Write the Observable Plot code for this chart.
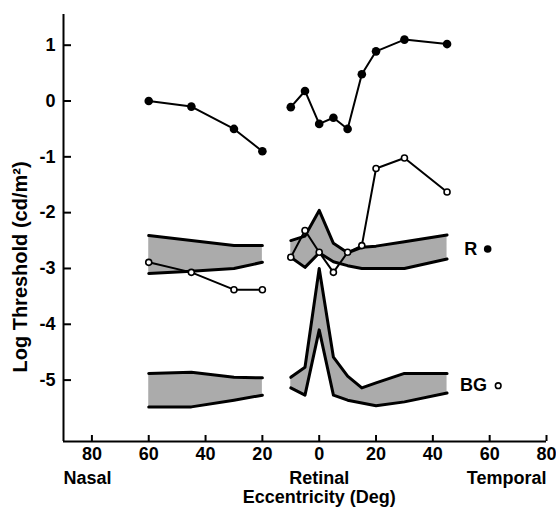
<!DOCTYPE html>
<html>
<head>
<meta charset="utf-8">
<script src="https://cdn.jsdelivr.net/npm/d3@7"></script>
<script src="https://cdn.jsdelivr.net/npm/@observablehq/plot@0.6"></script>
<style>
  html, body { margin: 0; padding: 0; background: white; }
  #chart svg { display: block; }
</style>
</head>
<body>
<svg width="0" height="0" style="position:absolute">
  <defs>
    <pattern id="stipple" x="-0.5" y="-0.5" width="2" height="2" patternUnits="userSpaceOnUse">
      <rect width="2" height="2" fill="#d6d6d6" shape-rendering="crispEdges"></rect>
      <rect width="1" height="1" fill="#2a2a2a" shape-rendering="crispEdges"></rect>
    </pattern>
  </defs>
</svg>
<div id="chart"></div>
<script>
// Eccentricity (deg): nasal negative, temporal positive
const nasalEcc = [-60, -45, -30, -20];
const centralEcc = [-10, -5, 0, 5, 10, 15, 20, 30, 45];

// R (filled) thresholds
const rNasal = [0, -0.1, -0.5, -0.9];
const rCentral = [-0.11, 0.18, -0.41, -0.3, -0.5, 0.48, 0.89, 1.1, 1.02];

// BG (open) thresholds
const bgNasal = [-2.89, -3.07, -3.38, -3.38];
const bgCentral = [-2.8, -2.32, -2.71, -3.07, -2.71, -2.59, -1.21, -1.02, -1.63];

// Normal ranges (shaded bands)
const rBandNasalHi = [-2.41, -2.5, -2.59, -2.59];
const rBandNasalLo = [-3.09, -3.05, -3.0, -2.89];
const rBandCentralHi = [-2.5, -2.42, -1.96, -2.55, -2.72, -2.62, -2.6, -2.52, -2.4];
const rBandCentralLo = [-2.8, -2.98, -2.72, -2.88, -2.95, -3.0, -3.0, -3.0, -2.83];
const bgBandNasalHi = [-4.88, -4.86, -4.95, -4.96];
const bgBandNasalLo = [-5.48, -5.48, -5.36, -5.27];
const bgBandCentralHi = [-4.95, -4.77, -3.0, -4.59, -4.93, -5.14, -5.05, -4.88, -4.88];
const bgBandCentralLo = [-5.14, -5.27, -4.1, -5.27, -5.36, -5.41, -5.46, -5.39, -5.23];

// Axes
const xDomain = [-90, 80];
const yDomain = [-6.1, 1.55];
const xTicks = [-80, -60, -40, -20, 0, 20, 40, 60, 80];
const yTicks = [-5, -4, -3, -2, -1, 0, 1];
const regionLabels = ["Nasal", "Retinal", "Temporal"];
const xTitle = "Eccentricity (Deg)";
const yTitle = "Log Threshold (cd/m²)";

// Curve key labels
const keyLabels = ["R", "BG"];
const keyLabelX = [53.3, 54.3];
const keyY = [-2.65, -5.1];
const keySymbolX = [59.3, 63];

const toRows = (xs, ys) => xs.map((x, i) => ({x, y: ys[i]}));
const toBand = (xs, lo, hi) => xs.map((x, i) => ({x, lo: lo[i], hi: hi[i]}));

const bands = [
  toBand(nasalEcc, rBandNasalLo, rBandNasalHi),
  toBand(centralEcc, rBandCentralLo, rBandCentralHi),
  toBand(nasalEcc, bgBandNasalLo, bgBandNasalHi),
  toBand(centralEcc, bgBandCentralLo, bgBandCentralHi)
];

const bandMarks = bands.flatMap(b => [
  Plot.areaY(b, {x: "x", y1: "lo", y2: "hi", fill: "url(#stipple)"}),
  Plot.line(b, {x: "x", y: "hi", stroke: "black", strokeWidth: 3}),
  Plot.line(b, {x: "x", y: "lo", stroke: "black", strokeWidth: 3})
]);

const rSegs = [toRows(nasalEcc, rNasal), toRows(centralEcc, rCentral)];
const bgSegs = [toRows(nasalEcc, bgNasal), toRows(centralEcc, bgCentral)];

const rMarks = rSegs.flatMap(s => [
  Plot.line(s, {x: "x", y: "y", stroke: "black", strokeWidth: 2}),
  Plot.dot(s, {x: "x", y: "y", r: 4.3, fill: "black", stroke: "none"})
]);
const bgMarks = bgSegs.flatMap(s => [
  Plot.line(s, {x: "x", y: "y", stroke: "black", strokeWidth: 2}),
  Plot.dot(s, {x: "x", y: "y", r: 3, fill: "white", stroke: "black", strokeWidth: 1.6})
]);

const keyRows = keyLabels.map((t, i) => ({t, x: keyLabelX[i], sx: keySymbolX[i], y: keyY[i]}));

const chart = Plot.plot({
  width: 556,
  height: 513,
  marginLeft: 63,
  marginRight: 10,
  marginTop: 14,
  marginBottom: 72,
  style: {
    fontFamily: "'Liberation Sans', Arial, sans-serif",
    fontWeight: "bold",
    fontSize: "18px",
    color: "black",
    background: "white"
  },
  x: {domain: xDomain},
  y: {domain: yDomain},
  marks: [
    ...bandMarks,
    ...bgMarks,
    ...rMarks,
    Plot.ruleX([xDomain[0]], {stroke: "black", strokeWidth: 2}),
    Plot.ruleY([yDomain[0]], {stroke: "black", strokeWidth: 2}),
    Plot.axisX(xTicks, {
      tickSize: -6, tickPadding: 12, strokeWidth: 2,
      tickFormat: d => String(Math.abs(d)), label: null, fontSize: 18
    }),
    Plot.axisY(yTicks, {
      tickSize: -8, tickPadding: 16, strokeWidth: 2,
      tickFormat: d => String(d), label: null, fontSize: 18
    }),
    Plot.text([regionLabels[0]], {x: xDomain[0], frameAnchor: "bottom", text: d => d, textAnchor: "start", dy: 42, fontSize: 18}),
    Plot.text([regionLabels[1]], {x: 0, frameAnchor: "bottom", text: d => d, dy: 42, fontSize: 18}),
    Plot.text([regionLabels[2]], {x: xDomain[1], frameAnchor: "bottom", text: d => d, textAnchor: "end", dy: 42, fontSize: 18}),
    Plot.text([xTitle], {x: 0, frameAnchor: "bottom", text: d => d, dy: 61, fontSize: 18}),
    Plot.text([yTitle], {frameAnchor: "left", text: d => d, textAnchor: "middle", rotate: -90, dx: -43, dy: 39, fontSize: 20}),
    Plot.text(keyRows, {x: "x", y: "y", text: "t", fontSize: 18}),
    Plot.dot(keyRows.slice(0, 1), {x: "sx", y: "y", r: 3.8, fill: "black", stroke: "none"}),
    Plot.dot(keyRows.slice(1), {x: "sx", y: "y", r: 2.8, fill: "white", stroke: "black", strokeWidth: 1.6})
  ]
});
document.getElementById("chart").appendChild(chart);
</script>
</body>
</html>
